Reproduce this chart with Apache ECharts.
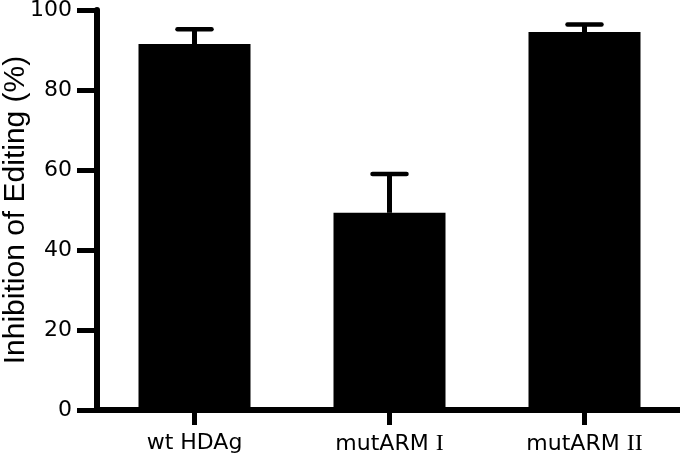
<!DOCTYPE html>
<html>
<head>
<meta charset="utf-8">
<script src="https://cdn.jsdelivr.net/npm/echarts@6/dist/echarts.min.js"></script>
<style>
html,body{margin:0;padding:0;background:#fff;}
#chart{width:680px;height:456px;}
</style>
</head>
<body>
<div id="chart"></div>
<script>
const categories = ['wt HDAg', 'mutARM I', 'mutARM II'];
const means = [91.5, 49.3, 94.5];
const sems = [3.7, 9.7, 1.9];
const yMin = 0, yMax = 100, yStep = 20;
const yTitle = 'Inhibition of Editing (%)';

const chart = echarts.init(document.getElementById('chart'));
const errData = categories.map((c, i) => [i, means[i], means[i] + sems[i]]);

chart.setOption({
  animation: false,
  backgroundColor: '#fff',
  grid: { left: 97, right: -2, top: 10, bottom: 46, containLabel: false, outerBoundsMode: 'none' },
  xAxis: {
    type: 'category',
    data: categories,
    boundaryGap: true,
    axisLine: { lineStyle: { color: '#000', width: 6 } },
    axisTick: { show: true, interval: 0, alignWithLabel: true, length: 15, lineStyle: { color: '#000', width: 5 } },
    axisLabel: {
      interval: 0, hideOverlap: false,
      color: '#000', fontFamily: 'DejaVu Sans', fontSize: 22, margin: 22,
      formatter: v => v.replace(/ (I+)$/, ' {r|$1}'),
      rich: { r: { fontFamily: 'Liberation Serif', fontSize: 24, color: '#000' } }
    },
    splitLine: { show: false }
  },
  yAxis: {
    type: 'value',
    min: yMin, max: yMax, interval: yStep,
    name: yTitle,
    nameLocation: 'middle',
    nameGap: 66,
    nameMoveOverlap: false,
    nameTextStyle: { color: '#000', fontFamily: 'Liberation Sans', fontSize: 30 },
    axisLine: { show: true, lineStyle: { color: '#000', width: 6 } },
    axisTick: { show: true, length: 20, lineStyle: { color: '#000', width: 5 } },
    axisLabel: { color: '#000', fontFamily: 'DejaVu Sans', fontSize: 22, margin: 25 },
    splitLine: { show: false }
  },
  series: [
    {
      type: 'bar',
      data: means,
      barWidth: 112,
      itemStyle: { color: '#000' }
    },
    {
      type: 'custom',
      data: errData,
      z: 3,
      renderItem: (params, api) => {
        const base = api.coord([api.value(0), api.value(1)]);
        const top = api.coord([api.value(0), api.value(2)]);
        const half = 17;
        return {
          type: 'group',
          children: [
            { type: 'line', shape: { x1: base[0], y1: base[1], x2: top[0], y2: top[1] },
              style: { stroke: '#000', lineWidth: 5 } },
            { type: 'line', shape: { x1: top[0] - half, y1: top[1], x2: top[0] + half, y2: top[1] },
              style: { stroke: '#000', lineWidth: 4.5, lineCap: 'round' } }
          ]
        };
      }
    }
  ]
});
</script>
</body>
</html>
